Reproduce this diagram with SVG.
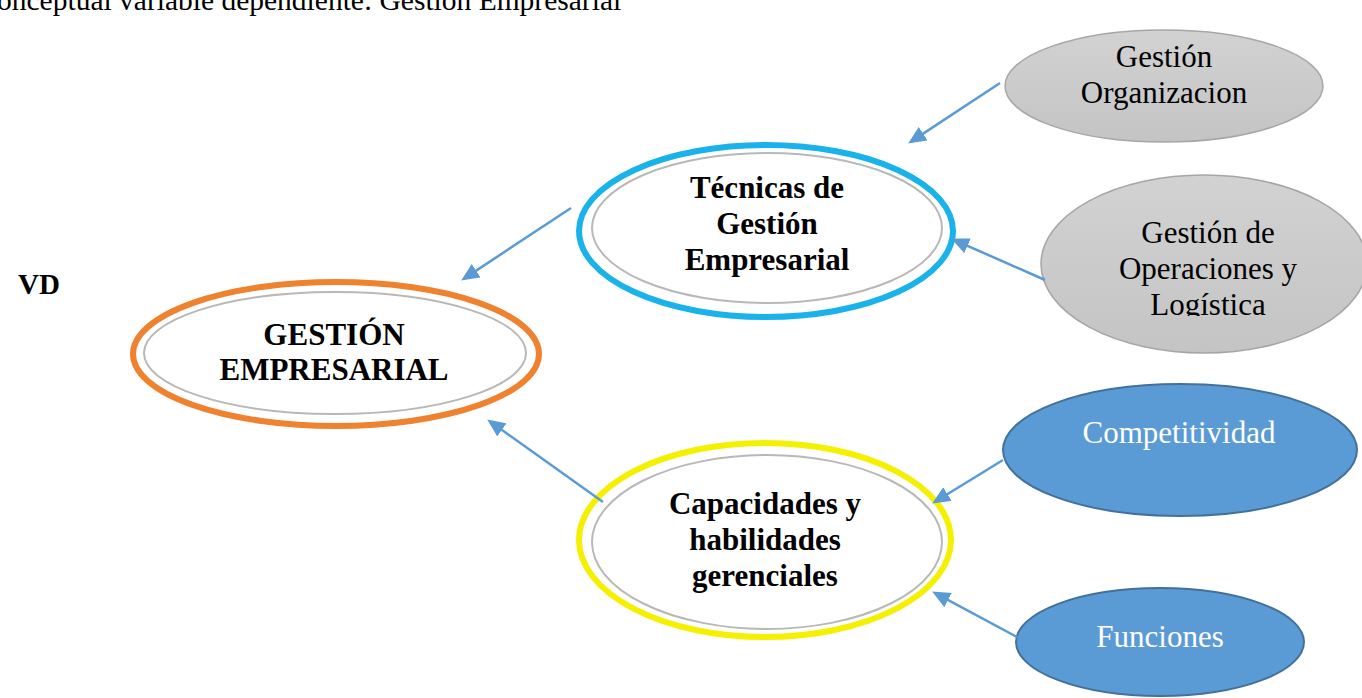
<svg xmlns="http://www.w3.org/2000/svg" width="1362" height="698" viewBox="0 0 1362 698">
  <defs>
    <style>
      .b { font-family: "Liberation Serif", "Times New Roman", serif; font-weight: bold; font-size: 31px; fill: #000; text-anchor: middle; }
      .r { font-family: "Liberation Serif", "Times New Roman", serif; font-size: 31px; fill: #000; text-anchor: middle; }
      .w { font-family: "Liberation Serif", "Times New Roman", serif; font-size: 31px; fill: #fff; text-anchor: middle; }
      .inner { fill: #fff; stroke: #b8b8b8; stroke-width: 2; }
      .grey { fill: url(#gg); stroke: #a6a6a6; stroke-width: 1.5; }
      .blue { fill: #5b9bd5; stroke: #41719c; stroke-width: 2; }
      .conn { stroke: #5b9bd5; stroke-width: 2.5; fill: none; marker-end: url(#ah); }
    </style>
    <linearGradient id="gg" x1="0" y1="0" x2="0" y2="1">
      <stop offset="0" stop-color="#d2d2d2"/>
      <stop offset="1" stop-color="#c4c4c4"/>
    </linearGradient>
    <marker id="ah" markerUnits="userSpaceOnUse" markerWidth="20" markerHeight="16" refX="5" refY="8" orient="auto">
      <path d="M0,0 L18,8 L0,16 z" fill="#5b9bd5"/>
    </marker>
    <clipPath id="clipOp">
      <rect x="1040" y="170" width="330" height="146"/>
    </clipPath>
  </defs>

  <text x="-3" y="10" font-family="Liberation Serif, Times New Roman, serif" font-size="29.5" fill="#000">onceptual variable dependiente: Gestión Empresarial</text>

  <text id="vd" x="18" y="294" font-family="Liberation Serif, Times New Roman, serif" font-size="29" font-weight="bold" fill="#000">VD</text>

  <g id="gestion-empresarial">
    <ellipse cx="336" cy="354" rx="203" ry="72" fill="#fff" stroke="#f0822f" stroke-width="6"/>
    <ellipse class="inner" cx="335" cy="353" rx="191" ry="61"/>
    <text class="b" x="334" y="345">GESTIÓN</text>
    <text class="b" x="334" y="380">EMPRESARIAL</text>
  </g>

  <g id="tecnicas">
    <ellipse cx="766" cy="231" rx="187" ry="86" fill="#fff" stroke="#1ab2ea" stroke-width="6"/>
    <ellipse class="inner" cx="767" cy="228" rx="175" ry="75"/>
    <text class="b" x="767" y="198">Técnicas de</text>
    <text class="b" x="767" y="234">Gestión</text>
    <text class="b" x="767" y="270">Empresarial</text>
  </g>

  <g id="capacidades">
    <ellipse cx="765" cy="540" rx="186" ry="97" fill="#fff" stroke="#f5f000" stroke-width="6"/>
    <ellipse class="inner" cx="767" cy="542" rx="175" ry="87"/>
    <text class="b" x="765" y="514">Capacidades y</text>
    <text class="b" x="765" y="550">habilidades</text>
    <text class="b" x="765" y="586">gerenciales</text>
  </g>

  <g id="gestion-organizacion">
    <ellipse class="grey" cx="1164" cy="86" rx="159" ry="56"/>
    <text class="r" x="1164" y="67">Gestión</text>
    <text class="r" x="1164" y="103">Organizacion</text>
  </g>

  <g id="gestion-operaciones">
    <ellipse class="grey" cx="1204" cy="264" rx="163" ry="89"/>
    <g clip-path="url(#clipOp)">
      <text class="r" x="1208" y="243">Gestión de</text>
      <text class="r" x="1208" y="279">Operaciones y</text>
      <text class="r" x="1208" y="315">Logística</text>
    </g>
  </g>

  <g id="competitividad">
    <ellipse class="blue" cx="1180" cy="450" rx="177" ry="66"/>
    <text class="w" x="1179" y="443">Competitividad</text>
  </g>

  <g id="funciones">
    <ellipse class="blue" cx="1160" cy="642" rx="144" ry="54"/>
    <text class="w" x="1160" y="647">Funciones</text>
  </g>

  <g id="connectors">
    <line class="conn" x1="571" y1="208" x2="472" y2="273.4"/>
    <line class="conn" x1="603" y1="502" x2="497.8" y2="427"/>
    <line class="conn" x1="1000" y1="83" x2="919" y2="136.4"/>
    <line class="conn" x1="1045" y1="280" x2="963" y2="243.8"/>
    <line class="conn" x1="1003" y1="460" x2="943.2" y2="496.7"/>
    <line class="conn" x1="1017" y1="637" x2="943.6" y2="597.7"/>
  </g>
</svg>
